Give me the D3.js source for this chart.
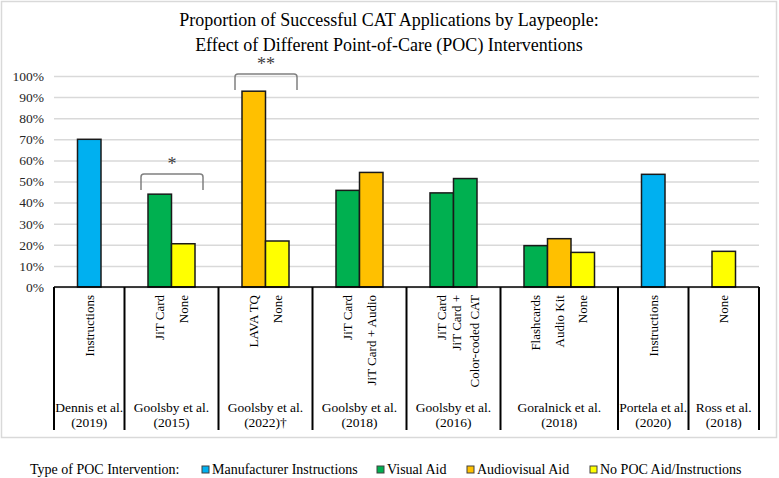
<!DOCTYPE html>
<html>
<head>
<meta charset="utf-8">
<script src="https://cdn.jsdelivr.net/npm/d3@7"></script>
<style>
  body { margin: 0; background: #fff; }
  svg { display: block; }
  text { font-family: "Liberation Serif", "Times New Roman", serif; }
</style>
</head>
<body>
<svg id="chart" width="779" height="478" font-family="Liberation Serif, serif"></svg>
<script>
// study groups along the x axis
var studies = ["Dennis et al.", "Goolsby et al.", "Goolsby et al.", "Goolsby et al.", "Goolsby et al.", "Goralnick et al.", "Portela et al.", "Ross et al."];
var years = ["(2019)", "(2015)", "(2022)\u2020", "(2018)", "(2016)", "(2018)", "(2020)", "(2018)"];
// interventions inside each study ("\n" = second line)
var interventions = [
  ["Instructions"],
  ["JiT Card", "None"],
  ["LAVA TQ", "None"],
  ["JiT Card", "JiT Card + Audio"],
  ["JiT Card", "JiT Card +\nColor-coded CAT"],
  ["Flashcards", "Audio Kit", "None"],
  ["Instructions"],
  ["None"]
];
// proportion successful
var values = [
  [0.70],
  [0.44, 0.205],
  [0.928, 0.218],
  [0.458, 0.543],
  [0.446, 0.514],
  [0.196, 0.229, 0.164],
  [0.534],
  [0.169]
];
// intervention type index (see typeNames)
var types = [
  [0],
  [1, 3],
  [2, 3],
  [1, 2],
  [1, 1],
  [1, 2, 3],
  [0],
  [3]
];
var typeNames = ["Manufacturer Instructions", "Visual Aid", "Audiovisual Aid", "No POC Aid/Instructions"];
var typeColors = ["#00b0f0", "#00b050", "#ffc000", "#ffff00"];
var yTicks = [0, 0.1, 0.2, 0.3, 0.4, 0.5, 0.6, 0.7, 0.8, 0.9, 1.0];
// significance brackets: study index, level, label
var brackets = [
  {study: 1, level: 0.535, label: "*"},
  {study: 2, level: 1.01, label: "**"}
];

var svg = d3.select("#chart");
svg.append("rect").attr("x", 1.5).attr("y", 1.5).attr("width", 775).attr("height", 436)
  .attr("fill", "#fff").attr("stroke", "#d9d9d9").attr("stroke-width", 1.5);

// each study takes one unit per bar plus one unit gap each side
var starts = [], u = 0;
for (var i = 0; i < studies.length; i++) {
  starts.push(u);
  u += values[i].length + 2;
}
var x = d3.scaleLinear().domain([0, u]).range([54, 759]);
var y = d3.scaleLinear().domain([0, 1]).range([287, 76]);
var bw = x(1) - x(0);

// title
var title = svg.append("text").attr("x", 389).attr("text-anchor", "middle")
  .attr("font-size", 18).attr("fill", "#000");
title.append("tspan").attr("x", 389).attr("y", 26).text("Proportion of Successful CAT Applications by Laypeople:");
title.append("tspan").attr("x", 389).attr("y", 51).text("Effect of Different Point-of-Care (POC) Interventions");

// gridlines + y axis labels
var yAxis = d3.axisLeft(y).tickValues(yTicks).tickFormat(d3.format(".0%"))
  .tickSize(-(759 - 54)).tickPadding(10);
var ga = svg.append("g").attr("transform", "translate(54,0)").call(yAxis);
ga.attr("font-family", "Liberation Serif, serif");
ga.select(".domain").remove();
ga.selectAll(".tick line").attr("stroke", "#d9d9d9").attr("stroke-width", 1.5);
ga.selectAll(".tick text").attr("font-size", 13.5).attr("fill", "#262626");

// bars
var bars = [];
values.forEach(function(vs, si) {
  vs.forEach(function(v, j) {
    bars.push({s: si, j: j, v: v, t: types[si][j], label: interventions[si][j]});
  });
});
svg.selectAll(".bar").data(bars).enter().append("rect")
  .attr("class", "bar")
  .attr("x", function(d) { return x(starts[d.s] + 1 + d.j); })
  .attr("y", function(d) { return y(d.v); })
  .attr("width", bw)
  .attr("height", function(d) { return y(0) - y(d.v); })
  .attr("fill", function(d) { return typeColors[d.t]; })
  .attr("stroke", "#1a1a1a").attr("stroke-width", 1.5);

// category axis
svg.append("line").attr("x1", 54).attr("x2", 759).attr("y1", y(0)).attr("y2", y(0))
  .attr("stroke", "#000").attr("stroke-width", 1.5);
var bounds = starts.concat([u]);
svg.selectAll(".sep").data(bounds).enter().append("line")
  .attr("x1", function(d) { return x(d); }).attr("x2", function(d) { return x(d); })
  .attr("y1", y(0)).attr("y2", 430)
  .attr("stroke", "#000").attr("stroke-width", 2);

// rotated intervention labels
bars.forEach(function(d) {
  var cx = x(starts[d.s] + 1 + d.j + 0.5);
  var lines = d.label.split("\n");
  lines.forEach(function(line, k) {
    var off = (k - (lines.length - 1) / 2) * 17.5;
    svg.append("text")
      .attr("transform", "translate(" + (cx + off) + ",295) rotate(-90)")
      .attr("text-anchor", "end").attr("dy", "0.35em")
      .attr("font-size", 13).attr("fill", "#000")
      .text(line);
  });
});

// study labels
studies.forEach(function(s, i) {
  var cx = (x(bounds[i]) + x(bounds[i + 1])) / 2;
  var t = svg.append("text").attr("text-anchor", "middle").attr("font-size", 13.5).attr("fill", "#000");
  t.append("tspan").attr("x", cx).attr("y", 412).text(s);
  t.append("tspan").attr("x", cx).attr("y", 427).text(years[i]);
});

// significance brackets
brackets.forEach(function(b) {
  var n = values[b.study].length;
  var x0 = x(starts[b.study] + 1) - 7, x1 = x(starts[b.study] + 1 + n) + 8;
  var yt = y(b.level), r = 3, h = 16;
  svg.append("path")
    .attr("d", "M" + x0 + "," + (yt + h) + " L" + x0 + "," + (yt + r) + " Q" + x0 + "," + yt + " " + (x0 + r) + "," + yt +
      " L" + (x1 - r) + "," + yt + " Q" + x1 + "," + yt + " " + x1 + "," + (yt + r) + " L" + x1 + "," + (yt + h))
    .attr("fill", "none").attr("stroke", "#808080").attr("stroke-width", 1.5);
  svg.append("text").attr("x", (x0 + x1) / 2).attr("y", yt - 4).attr("text-anchor", "middle")
    .attr("font-size", 18).attr("fill", "#404040").text(b.label);
});

// legend
svg.append("text").attr("x", 30).attr("y", 474).attr("font-size", 14).attr("fill", "#000")
  .text("Type of POC Intervention:");
var legX = [202, 377, 467, 590];
typeNames.forEach(function(name, i) {
  svg.append("rect").attr("x", legX[i]).attr("y", 466).attr("width", 7).attr("height", 7)
    .attr("fill", typeColors[i]).attr("stroke", "#404040").attr("stroke-width", 1);
  svg.append("text").attr("x", legX[i] + 10).attr("y", 474).attr("font-size", 14).attr("fill", "#000")
    .text(name);
});
</script>
</body>
</html>
